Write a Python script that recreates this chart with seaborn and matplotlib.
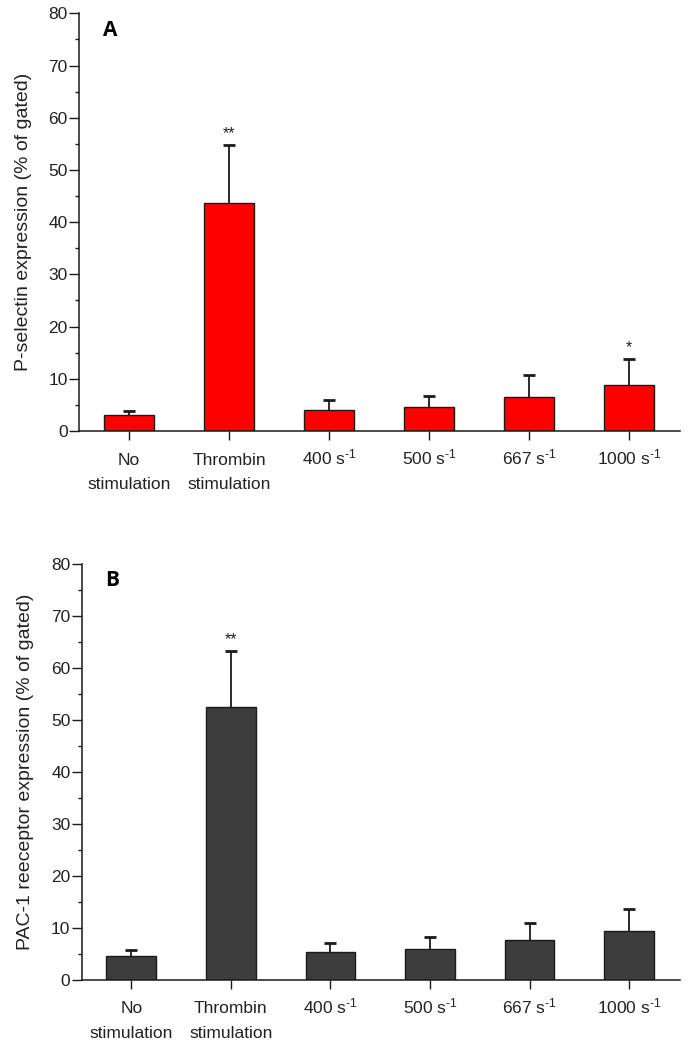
import matplotlib
matplotlib.use("Agg")
import matplotlib.pyplot as plt
import matplotlib.transforms as mtransforms
import seaborn as sns
import numpy as np
from matplotlib.ticker import MultipleLocator

categories = ["No\nstimulation", "Thrombin\nstimulation",
              "400 s$^{\\text{-1}}$", "500 s$^{\\text{-1}}$",
              "667 s$^{\\text{-1}}$", "1000 s$^{\\text{-1}}$"]
pselectin_mean = [3.0, 43.7, 4.0, 4.6, 6.6, 8.9]
pselectin_sd = [0.9, 11.0, 2.0, 2.1, 4.1, 4.8]
pselectin_sig = ["", "**", "", "", "", "*"]
pac1_mean = [4.6, 52.5, 5.4, 5.9, 7.7, 9.3]
pac1_sd = [1.1, 10.7, 1.7, 2.3, 3.2, 4.3]
pac1_sig = ["", "**", "", "", "", ""]
y_ticks = [0, 10, 20, 30, 40, 50, 60, 70, 80]

sns.set_theme(style="white")
plt.rcParams['font.family'] = ['Liberation Sans', 'DejaVu Sans']
plt.rcParams['mathtext.fontset'] = 'custom'
plt.rcParams['mathtext.rm'] = 'Liberation Sans'
plt.rcParams['mathtext.it'] = 'Liberation Sans'
plt.rcParams['mathtext.default'] = 'regular'

txt = "#222222"
edge = "#1a1a1a"
fig = plt.figure(figsize=(6.88, 10.5), dpi=100)
axA = fig.add_axes([0.1148, 0.5895, 0.8735, 0.3978])
axB = fig.add_axes([0.1185, 0.0669, 0.8698, 0.3960])


def panel(ax, mean, sd, sig, color, ylabel, letter):
    sns.barplot(x=categories, y=mean, color=color, width=0.5, ax=ax,
                edgecolor=edge, linewidth=1.0, saturation=1)
    x = np.arange(len(mean))
    _, caps, _ = ax.errorbar(x, mean, yerr=[np.zeros(len(sd)), sd],
                             fmt="none", ecolor=edge, elinewidth=1.3,
                             capsize=4.5, capthick=2.0)
    if len(caps) == 2:
        caps[0].set_visible(False)
    for xi, m, s, g in zip(x, mean, sd, sig):
        if g:
            ax.text(xi, m + s + 0.8, g, ha="center", va="bottom",
                    fontsize=11.5, color=txt)
    ax.set_ylim(0, 80)
    ax.set_xlim(-0.5, 5.51)
    ax.set_yticks(y_ticks)
    ax.yaxis.set_minor_locator(MultipleLocator(5))
    for side in ["top", "right"]:
        ax.spines[side].set_visible(False)
    for side in ["left", "bottom"]:
        ax.spines[side].set_color(edge)
        ax.spines[side].set_linewidth(1.1)
    ax.tick_params(axis="y", which="major", direction="out", length=7,
                   width=1.0, color=edge, labelsize=12.5,
                   labelcolor=txt, pad=1, left=True)
    ax.tick_params(axis="y", which="minor", direction="out", length=3,
                   width=1.0, color=edge, left=True)
    ax.tick_params(axis="x", direction="out", length=6.5, width=1.0,
                   color=edge, labelsize=12.5, labelcolor=txt,
                   pad=9, bottom=True)
    for tk in ax.xaxis.get_major_ticks():
        tk.label1.set_linespacing(1.8)
    ax.set_ylabel(ylabel, fontsize=14, color=txt, labelpad=12)
    ax.set_xlabel("")
    ax.text(0.04, 0.96, letter, transform=ax.transAxes, fontsize=15,
            fontweight="bold", family=["Open Sans", "DejaVu Sans"],
            color="black", ha="left", va="center")


def align_baselines(ax, renderer):
    # shift superscript labels so their baseline matches the first line
    # of the plain two-line labels
    for tk in ax.xaxis.get_major_ticks():
        lab = tk.label1
        s = lab.get_text()
        if "$" not in s:
            continue
        fp = lab.get_fontproperties()
        _, lp_h, lp_d = renderer.get_text_width_height_descent("lp", fp, ismath=False)
        _, h, d = renderer.get_text_width_height_descent(s, fp, ismath=True)
        dy = (max(h, lp_h) - max(d, lp_d)) - (lp_h - lp_d)
        lab.set_transform(lab.get_transform() +
                          mtransforms.Affine2D().translate(0, dy))


panel(axA, pselectin_mean, pselectin_sd, pselectin_sig, "#ff0000",
      "P-selectin expression (% of gated)", "A")
panel(axB, pac1_mean, pac1_sd, pac1_sig, "#3d3d3d",
      "PAC-1 reeceptor expression (% of gated)", "B")

fig.canvas.draw()
rend = fig.canvas.get_renderer()
align_baselines(axA, rend)
align_baselines(axB, rend)

fig.savefig("out.png", dpi=100)
